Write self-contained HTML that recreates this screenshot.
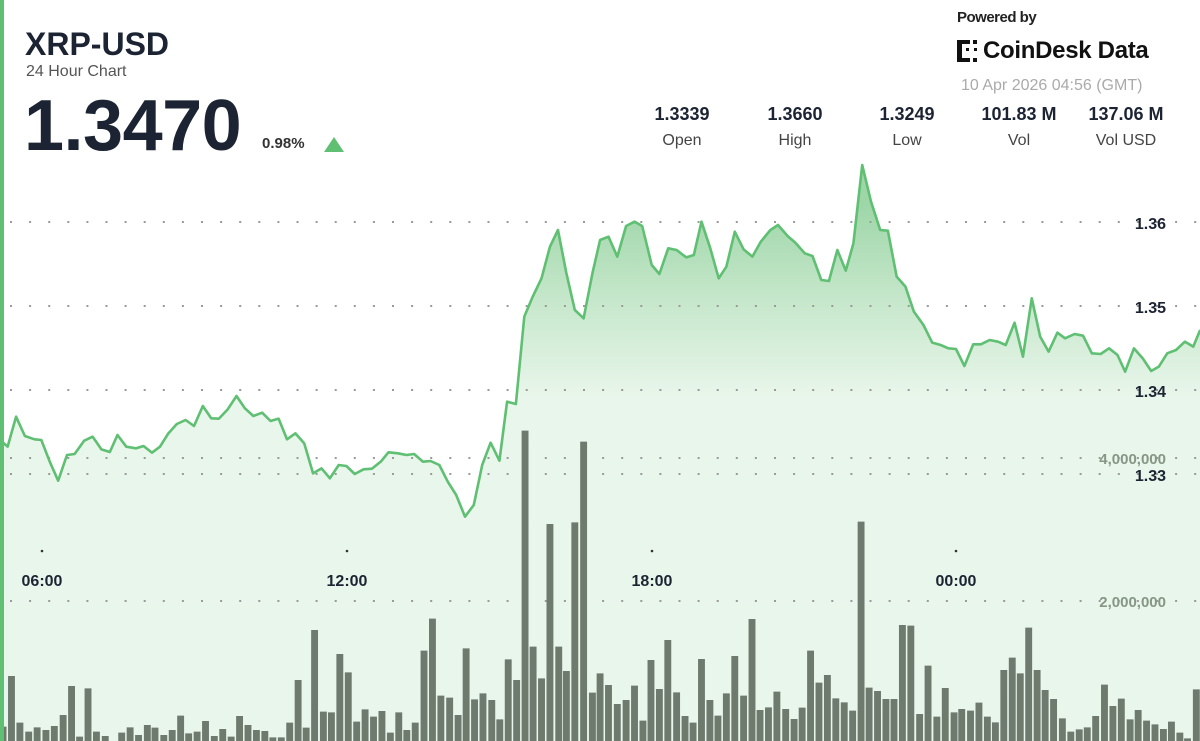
<!DOCTYPE html>
<html><head><meta charset="utf-8"><style>
html,body{margin:0;padding:0;background:#fff;}
body{width:1200px;height:741px;position:relative;overflow:hidden;font-family:"Liberation Sans",sans-serif;}
.t{position:absolute;white-space:nowrap;}
</style></head><body>
<svg width="1200" height="741" style="position:absolute;left:0;top:0">
<defs>
<linearGradient id="g" x1="0" y1="160" x2="0" y2="741" gradientUnits="userSpaceOnUse">
<stop offset="0" stop-color="#9ed6a8"/>
<stop offset="0.5" stop-color="#c6e7cb"/>
<stop offset="1" stop-color="#e9f6eb"/>
</linearGradient>
</defs>
<g transform="translate(0,150) scale(0.38270,0.33333)">
<path fill="url(#g)" stroke="none" d="M0 870L20 890L42 800L65 858L90 868L108 870L130 935L152 992L175 915L195 912L220 872L242 860L265 898L287 906L307 855L330 890L355 895L375 888L397 908L418 890L440 850L462 822L485 810L507 828L530 768L552 805L572 806L595 778L618 738L640 775L662 798L685 788L707 813L728 806L750 868L772 850L795 880L818 970L840 955L862 985L885 945L905 948L927 972L950 958L972 956L995 935L1015 907L1040 910L1062 915L1082 912L1105 935L1125 933L1148 945L1170 995L1192 1035L1215 1100L1238 1065L1260 945L1282 878L1305 932L1325 755L1348 762L1370 500L1392 440L1415 385L1437 290L1458 240L1480 370L1502 480L1525 505L1548 370L1568 270L1590 260L1613 320L1636 228L1658 215L1678 228L1703 345L1723 372L1746 295L1768 300L1793 322L1813 315L1833 215L1856 295L1878 385L1898 350L1920 245L1943 298L1966 320L1988 275L2013 240L2033 225L2058 258L2078 278L2103 310L2123 318L2146 390L2166 393L2188 300L2210 362L2230 280L2253 45L2276 155L2300 240L2320 242L2343 380L2366 410L2388 485L2413 525L2436 578L2458 585L2478 595L2498 597L2520 648L2543 583L2563 583L2586 570L2608 575L2628 585L2651 518L2673 620L2696 445L2718 560L2740 605L2763 548L2783 565L2808 552L2830 557L2853 610L2876 612L2898 595L2920 615L2940 665L2963 595L2986 625L3008 663L3028 650L3050 610L3073 600L3096 575L3118 590L3136 540L3136 1773L0 1773Z"/>
</g>
<g stroke="#9a9a9a" stroke-width="2" stroke-dasharray="2 17.1">
<line x1="10" y1="222" x2="1200" y2="222"/>
<line x1="10" y1="306" x2="1200" y2="306"/>
<line x1="10" y1="390" x2="1200" y2="390"/>
<line x1="10" y1="474" x2="1200" y2="474"/>
<line x1="10" y1="458" x2="1200" y2="458"/>
<line x1="10" y1="601" x2="1200" y2="601"/>
</g>
<g transform="translate(0,400) scale(0.38270,0.33333)" fill="#6f7a6f">
<path d="M-1 1023V980h18V1023zM21 1023V828h18V1023zM43 1023V968h18V1023zM66 1023V995h18V1023zM88 1023V982h18V1023zM111 1023V990h18V1023zM133 1023V978h18V1023zM156 1023V945h18V1023zM178 1023V858h18V1023zM199 1023V1010h18V1023zM221 1023V865h18V1023zM243 1023V995h18V1023zM266 1023V1008h18V1023zM309 1023V998h18V1023zM331 1023V982h18V1023zM353 1023V1005h18V1023zM376 1023V975h18V1023zM396 1023V983h18V1023zM419 1023V1005h18V1023zM441 1023V990h18V1023zM463 1023V947h18V1023zM484 1023V1000h18V1023zM506 1023V995h18V1023zM528 1023V963h18V1023zM551 1023V1008h18V1023zM573 1023V987h18V1023zM595 1023V1010h18V1023zM617 1023V948h18V1023zM639 1023V975h18V1023zM661 1023V990h18V1023zM683 1023V993h18V1023zM704 1023V1012h18V1023zM726 1023V1012h18V1023zM748 1023V968h18V1023zM770 1023V840h18V1023zM791 1023V983h18V1023zM813 1023V690h18V1023zM836 1023V935h18V1023zM857 1023V937h18V1023zM879 1023V762h18V1023zM901 1023V817h18V1023zM923 1023V965h18V1023zM945 1023V928h18V1023zM967 1023V950h18V1023zM989 1023V933h18V1023zM1011 1023V998h18V1023zM1033 1023V937h18V1023zM1054 1023V990h18V1023zM1076 1023V968h18V1023zM1099 1023V752h18V1023zM1121 1023V656h18V1023zM1143 1023V887h18V1023zM1166 1023V893h18V1023zM1188 1023V945h18V1023zM1209 1023V745h18V1023zM1231 1023V898h18V1023zM1253 1023V880h18V1023zM1276 1023V900h18V1023zM1297 1023V958h18V1023zM1319 1023V778h18V1023zM1341 1023V840h18V1023zM1363 1023V92h18V1023zM1384 1023V740h18V1023zM1406 1023V835h18V1023zM1428 1023V372h18V1023zM1451 1023V740h18V1023zM1471 1023V813h18V1023zM1493 1023V367h18V1023zM1516 1023V125h18V1023zM1539 1023V878h18V1023zM1559 1023V820h18V1023zM1581 1023V855h18V1023zM1604 1023V912h18V1023zM1627 1023V900h18V1023zM1649 1023V857h18V1023zM1671 1023V962h18V1023zM1692 1023V780h18V1023zM1714 1023V867h18V1023zM1736 1023V720h18V1023zM1759 1023V877h18V1023zM1781 1023V948h18V1023zM1802 1023V968h18V1023zM1824 1023V777h18V1023zM1846 1023V900h18V1023zM1867 1023V947h18V1023zM1889 1023V880h18V1023zM1911 1023V768h18V1023zM1934 1023V887h18V1023zM1956 1023V657h18V1023zM1977 1023V930h18V1023zM1999 1023V922h18V1023zM2021 1023V875h18V1023zM2044 1023V927h18V1023zM2066 1023V957h18V1023zM2087 1023V923h18V1023zM2109 1023V752h18V1023zM2131 1023V848h18V1023zM2153 1023V825h18V1023zM2175 1023V895h18V1023zM2197 1023V907h18V1023zM2219 1023V932h18V1023zM2241 1023V365h18V1023zM2262 1023V863h18V1023zM2284 1023V873h18V1023zM2306 1023V897h18V1023zM2327 1023V897h18V1023zM2349 1023V675h18V1023zM2371 1023V677h18V1023zM2394 1023V942h18V1023zM2416 1023V797h18V1023zM2439 1023V950h18V1023zM2461 1023V864h18V1023zM2484 1023V937h18V1023zM2504 1023V927h18V1023zM2527 1023V932h18V1023zM2549 1023V908h18V1023zM2571 1023V950h18V1023zM2592 1023V967h18V1023zM2614 1023V810h18V1023zM2636 1023V773h18V1023zM2657 1023V820h18V1023zM2679 1023V683h18V1023zM2701 1023V810h18V1023zM2722 1023V870h18V1023zM2744 1023V897h18V1023zM2767 1023V955h18V1023zM2789 1023V995h18V1023zM2811 1023V988h18V1023zM2832 1023V982h18V1023zM2854 1023V948h18V1023zM2877 1023V854h18V1023zM2899 1023V918h18V1023zM2921 1023V896h18V1023zM2944 1023V958h18V1023zM2965 1023V930h18V1023zM2987 1023V962h18V1023zM3009 1023V973h18V1023zM3031 1023V987h18V1023zM3052 1023V965h18V1023zM3074 1023V998h18V1023zM3094 1023V1015h18V1023zM3117 1023V868h18V1023z"/>
</g>
<g transform="translate(0,150) scale(0.38270,0.33333)">
<path fill="none" stroke="#5fbf72" stroke-width="2.6" vector-effect="non-scaling-stroke" stroke-linejoin="round" d="M0 870L20 890L42 800L65 858L90 868L108 870L130 935L152 992L175 915L195 912L220 872L242 860L265 898L287 906L307 855L330 890L355 895L375 888L397 908L418 890L440 850L462 822L485 810L507 828L530 768L552 805L572 806L595 778L618 738L640 775L662 798L685 788L707 813L728 806L750 868L772 850L795 880L818 970L840 955L862 985L885 945L905 948L927 972L950 958L972 956L995 935L1015 907L1040 910L1062 915L1082 912L1105 935L1125 933L1148 945L1170 995L1192 1035L1215 1100L1238 1065L1260 945L1282 878L1305 932L1325 755L1348 762L1370 500L1392 440L1415 385L1437 290L1458 240L1480 370L1502 480L1525 505L1548 370L1568 270L1590 260L1613 320L1636 228L1658 215L1678 228L1703 345L1723 372L1746 295L1768 300L1793 322L1813 315L1833 215L1856 295L1878 385L1898 350L1920 245L1943 298L1966 320L1988 275L2013 240L2033 225L2058 258L2078 278L2103 310L2123 318L2146 390L2166 393L2188 300L2210 362L2230 280L2253 45L2276 155L2300 240L2320 242L2343 380L2366 410L2388 485L2413 525L2436 578L2458 585L2478 595L2498 597L2520 648L2543 583L2563 583L2586 570L2608 575L2628 585L2651 518L2673 620L2696 445L2718 560L2740 605L2763 548L2783 565L2808 552L2830 557L2853 610L2876 612L2898 595L2920 615L2940 665L2963 595L2986 625L3008 663L3028 650L3050 610L3073 600L3096 575L3118 590L3136 540"/>
</g>
<g fill="#333"><circle cx="42" cy="551" r="1.3"/><circle cx="347" cy="551" r="1.3"/><circle cx="652" cy="551" r="1.3"/><circle cx="956" cy="551" r="1.3"/></g>
<g font-family="Liberation Sans,sans-serif" font-weight="bold" text-anchor="end">
<text x="1166" y="229" font-size="16" fill="#1c2433">1.36</text>
<text x="1166" y="313" font-size="16" fill="#1c2433">1.35</text>
<text x="1166" y="397" font-size="16" fill="#1c2433">1.34</text>
<text x="1166" y="464" font-size="15" fill="#869686">4,000,000</text>
<text x="1166" y="481" font-size="16" fill="#1c2433">1.33</text>
<text x="1166" y="607" font-size="15" fill="#869686">2,000,000</text>
</g>
<g font-family="Liberation Sans,sans-serif" font-weight="bold" font-size="16" fill="#1c2433" text-anchor="middle">
<text x="42" y="586">06:00</text><text x="347" y="586">12:00</text><text x="652" y="586">18:00</text><text x="956" y="586">00:00</text>
</g>
<rect x="0" y="0" width="4" height="741" fill="#5fbf72"/>
<polygon points="324,152 334,137 344,152" fill="#5fbf72"/>
<g fill="#111"><rect x="957" y="40" width="5" height="22"/><rect x="962" y="40" width="8" height="4"/><rect x="962" y="58" width="8" height="4"/><rect x="973" y="40" width="4" height="4"/><rect x="973" y="58" width="4" height="4"/><rect x="966" y="48" width="3" height="3"/><rect x="974" y="48" width="3" height="3"/></g>
</svg>
<div class="t" style="left:25px;top:26px;font-size:32px;font-weight:bold;color:#1c2433">XRP-USD</div>
<div class="t" style="left:26px;top:63px;font-size:16px;color:#555">24 Hour Chart</div>
<div class="t" style="left:24px;top:85px;font-size:72px;font-weight:bold;color:#1c2433;letter-spacing:-0.5px">1.3470</div>
<div class="t" style="left:262px;top:135px;font-size:15px;font-weight:bold;color:#333">0.98%</div>
<div class="t" style="left:957px;top:9px;font-size:15px;font-weight:bold;color:#222;letter-spacing:-0.5px">Powered by</div>
<div class="t" style="left:983px;top:37px;font-size:24px;font-weight:bold;color:#111;letter-spacing:-0.3px">CoinDesk Data</div>
<div class="t" style="left:961px;top:77px;font-size:16px;color:#aaa">10 Apr 2026 04:56 (GMT)</div>
<div class="t" style="left:632px;top:104px;width:100px;text-align:center;font-size:18px;font-weight:bold;color:#1c2433">1.3339</div>
<div class="t" style="left:745px;top:104px;width:100px;text-align:center;font-size:18px;font-weight:bold;color:#1c2433">1.3660</div>
<div class="t" style="left:857px;top:104px;width:100px;text-align:center;font-size:18px;font-weight:bold;color:#1c2433">1.3249</div>
<div class="t" style="left:969px;top:104px;width:100px;text-align:center;font-size:18px;font-weight:bold;color:#1c2433">101.83 M</div>
<div class="t" style="left:1076px;top:104px;width:100px;text-align:center;font-size:18px;font-weight:bold;color:#1c2433">137.06 M</div>
<div class="t" style="left:632px;top:132px;width:100px;text-align:center;font-size:16px;color:#444">Open</div>
<div class="t" style="left:745px;top:132px;width:100px;text-align:center;font-size:16px;color:#444">High</div>
<div class="t" style="left:857px;top:132px;width:100px;text-align:center;font-size:16px;color:#444">Low</div>
<div class="t" style="left:969px;top:132px;width:100px;text-align:center;font-size:16px;color:#444">Vol</div>
<div class="t" style="left:1076px;top:132px;width:100px;text-align:center;font-size:16px;color:#444">Vol USD</div>
</body></html>
